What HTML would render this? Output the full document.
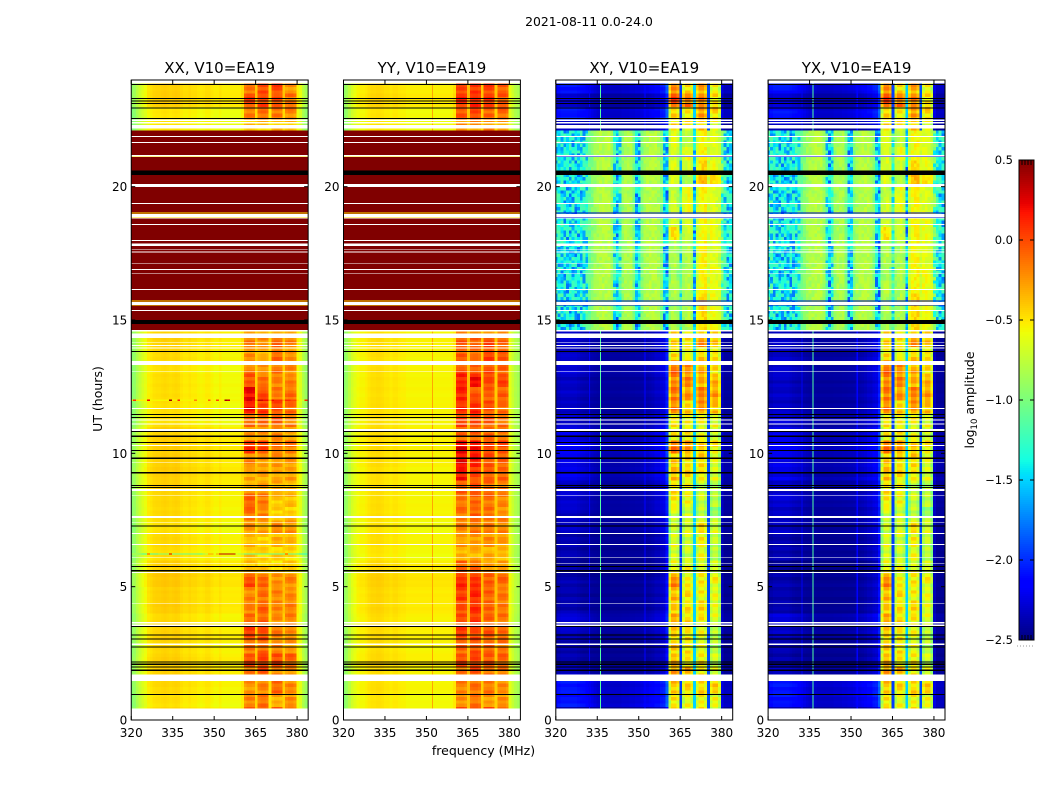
<!DOCTYPE html>
<html lang="en">
<head>
<meta charset="utf-8">
<title>2021-08-11 0.0-24.0</title>
<style>
html,body{margin:0;padding:0;background:#fff;width:1050px;height:800px;overflow:hidden}
svg{display:block}
text{font-family:"DejaVu Sans","Liberation Sans",sans-serif;fill:#000}
</style>
</head>
<body>
<svg id="figure" xmlns="http://www.w3.org/2000/svg" width="1050" height="800" viewBox="0 0 1050 800">
  <rect x="0" y="0" width="1050" height="800" fill="#fff"/>
  <text x="589" y="26" font-size="12.4" text-anchor="middle">2021-08-11 0.0-24.0</text>
  <text x="483.5" y="755" font-size="12.5" text-anchor="middle">frequency (MHz)</text>
  <text transform="translate(102,399) rotate(-90)" font-size="12.5" text-anchor="middle">UT (hours)</text>
  <text transform="translate(974,400) rotate(-90)" font-size="12.5" text-anchor="middle">log<tspan font-size="8.5" dy="3">10</tspan><tspan dy="-3"> amplitude</tspan></text>
</svg>
<script>
/* All values below are estimated by eye from the reference picture, in log10 amplitude.
   Row gains are per half hour. rowStripe and speckleTable are hand-typed texture
   approximations, not cell-by-cell readings. */
const channels=[320,321,322,323,324,325,326,327,328,329,330,331,332,333,334,335,336,337,338,339,340,341,342,343,344,345,346,347,348,349,350,351,352,353,354,355,356,357,358,359,360,361,362,363,364,365,366,367,368,369,370,371,372,373,374,375,376,377,378,379,380,381,382,383];
const segmentOfChannel=[0,0,0,0,0,0,0,0,0,0,0,0,0,0,0,0,0,0,0,0,0,0,0,0,0,0,0,0,0,0,0,0,0,0,0,0,0,0,0,0,0,1,1,1,1,5,2,2,2,2,5,3,3,3,3,5,4,4,4,4,0,0,0,0];
const xTicks=[320,335,350,365,380];
const yTicks=[0,5,10,15,20];
const colorbarTicks=[0.5,0,-0.5,-1,-1.5,-2,-2.5];
const colorbarLabels=['0.5','0.0','\u22120.5','\u22121.0','\u22121.5','\u22122.0','\u22122.5'];
const panelTitles=['XX, V10=EA19','YY, V10=EA19','XY, V10=EA19','YX, V10=EA19'];

const xxLowProfile=[-0.95,-0.9,-0.8,-0.72,-0.65,-0.6,-0.52,-0.5,-0.47,-0.46,-0.46,-0.45,-0.44,-0.45,-0.46,-0.45,-0.44,-0.45,-0.48,-0.5,-0.5,-0.48,-0.5,-0.5,-0.52,-0.53,-0.52,-0.5,-0.5,-0.53,-0.55,-0.55,-0.52,-0.55,-0.55,-0.55,-0.55,-0.55,-0.55,-0.55,-0.5,-0.05,0,0,-0.02,-0.42,-0.04,0,0,-0.03,-0.48,-0.04,0,0,-0.03,-0.42,-0.04,0,0,-0.05,-0.55,-0.62,-0.78,-0.88];
const yyLowProfile=[-0.95,-0.88,-0.78,-0.68,-0.62,-0.57,-0.55,-0.55,-0.53,-0.5,-0.48,-0.48,-0.47,-0.47,-0.48,-0.5,-0.5,-0.52,-0.5,-0.5,-0.52,-0.53,-0.53,-0.55,-0.55,-0.55,-0.55,-0.55,-0.55,-0.55,-0.55,-0.55,-0.55,-0.55,-0.55,-0.55,-0.55,-0.55,-0.55,-0.55,-0.5,0,0.02,0.02,-0.02,-0.38,0,0.02,0.02,-0.02,-0.42,0,0.02,0.02,-0.02,-0.42,-0.02,0,0,-0.05,-0.62,-0.72,-0.8,-0.85];
const saturatedProfile=[0.62,0.62,0.62,0.62,0.62,0.62,0.62,0.62,0.62,0.62,0.62,0.62,0.62,0.62,0.62,0.62,0.62,0.62,0.62,0.62,0.62,0.62,0.62,0.62,0.62,0.62,0.62,0.62,0.62,0.62,0.62,0.62,0.62,0.62,0.62,0.62,0.62,0.62,0.62,0.62,0.62,0.62,0.62,0.62,0.62,0.62,0.62,0.62,0.62,0.62,0.62,0.62,0.62,0.62,0.62,0.62,0.62,0.62,0.62,0.62,0.62,0.62,0.62,0.62];
const xyLowProfile=[-2.47,-2.45,-2.42,-2.42,-2.42,-2.42,-2.42,-2.42,-2.44,-2.46,-2.47,-2.47,-2.47,-2.47,-2.47,-2.47,-2.47,-2.47,-2.47,-2.47,-2.47,-2.47,-2.47,-2.47,-2.47,-2.47,-2.47,-2.47,-2.47,-2.47,-2.47,-2.47,-2.45,-2.46,-2.45,-2.43,-2.4,-2.4,-2.36,-2.34,-2.15,-0.3,0,0,-0.12,-1.95,-0.2,0,0,-0.15,-1.5,-0.2,0,0,-0.15,-1.9,-0.15,0,0,-0.25,-2.38,-2.47,-2.47,-2.47];
const yxLowProfile=[-2.47,-2.45,-2.42,-2.42,-2.42,-2.42,-2.42,-2.42,-2.44,-2.46,-2.47,-2.47,-2.47,-2.47,-2.47,-2.47,-2.47,-2.47,-2.47,-2.47,-2.47,-2.47,-2.47,-2.47,-2.47,-2.47,-2.47,-2.47,-2.47,-2.47,-2.47,-2.47,-2.45,-2.46,-2.45,-2.43,-2.4,-2.4,-2.36,-2.34,-2.15,-0.3,0,0,-0.12,-1.95,-0.2,0,0,-0.15,-1.5,-0.2,0,0,-0.15,-1.9,-0.15,0,0,-0.25,-2.38,-2.47,-2.47,-2.47];
const crossChannelWeight=[0.9,1,1,1,1,1,1,1,1,1,1,0.9,0.8,0.7,0.6,0.5,0.5,0.5,0.45,0.45,0.45,0.45,0.45,0.45,0.5,0.5,0.5,0.55,0.55,0.6,0.6,0.65,0.7,0.7,0.75,0.75,0.8,0.8,0.85,0.85,0.9,0,0,0,0,0,0,0,0,0,0,0,0,0,0,0,0,0,0,0,0.4,0.4,0.4,0.4];
const xyHighProfile=[-1.25,-1.28,-1.32,-1.35,-1.35,-1.35,-1.35,-1.35,-1.35,-1.32,-1.28,-1.2,-1.05,-0.95,-0.85,-0.8,-0.78,-0.76,-0.76,-0.76,-0.88,-1.2,-1.42,-1.2,-0.88,-0.8,-0.8,-0.8,-1,-1.42,-1.38,-0.95,-0.82,-0.78,-0.76,-0.76,-0.76,-0.82,-0.95,-1.38,-1.48,-0.85,-0.75,-0.75,-0.85,-1.18,-0.85,-0.8,-0.75,-0.85,-1.45,-0.8,-0.66,-0.62,-0.62,-0.66,-0.66,-0.66,-0.7,-0.76,-1,-1.25,-1.32,-1.32];

const xxLowGain=[0,-0.03,0,0.02,0.02,0,0.02,0,0.03,0.03,0.05,0.02,-0.02,0,-0.03,0,0,0.02,0.03,0.03,0.03,0.02,-0.03,-0.03,-0.02,-0.02,-0.03,0,0.02,0,0,0,0,0,0,0,0,0,0,0,0,0,0,0,-0.05,-0.05,0.03,0.02];
const yyLowGain=[0,-0.02,0,0,0.02,0,0.02,0.01,0.03,0.03,0.05,0.02,-0.02,0,-0.02,0,0,0,0,0.01,0.01,0.01,0,0,0,0,0,0,0.01,0,0,0,0,0,0,0,0,0,0,0,0,0,0,0,-0.03,-0.02,0.03,0.02];
const crossLowGain=[0,0.35,0.35,0.1,0.05,0.05,0.1,0.15,0.05,0.05,0.05,0,0.05,0.05,0.1,0.1,0.15,0.1,0.2,0.2,0.25,0.2,0.15,0.1,0.1,0.1,0.15,0.1,0.1,0.1,0,0,0,0,0,0,0,0,0,0,0,0,0,0,0.1,0.35,0.15,0.35];

const xxSeg1=[0,-0.1,-0.15,-0.05,0.08,-0.05,0.1,-0.02,-0.08,-0.1,0.08,-0.3,-0.3,-0.28,-0.15,-0.02,0.03,-0.25,-0.2,-0.1,0.15,-0.15,-0.02,0.25,0.3,0.08,-0.1,-0.15,-0.05,-0.2,0,0,0,0,0,0,0,0,0,0,0,0,0,0,-0.3,-0.08,0.1,-0.05];
const xxSeg2=[0,-0.05,-0.1,0.05,0.12,-0.02,0.08,0.02,0,-0.02,0,-0.35,-0.35,-0.3,-0.2,-0.1,-0.05,-0.2,-0.2,-0.15,0.1,-0.15,-0.02,0.15,0.08,-0.05,-0.15,-0.25,-0.1,-0.2,0,0,0,0,0,0,0,0,0,0,0,0,0,0,-0.3,-0.02,0.1,0.1];
const xxSeg3=[0,-0.2,0,-0.1,0.1,-0.1,-0.08,-0.12,-0.1,-0.1,-0.12,-0.35,-0.35,-0.25,-0.1,-0.35,-0.3,-0.2,-0.2,-0.15,-0.05,-0.1,0.02,0.08,-0.05,-0.08,-0.05,-0.02,0,-0.2,0,0,0,0,0,0,0,0,0,0,0,0,0,0,-0.3,-0.05,0.05,0.1];
const xxSeg4=[0,-0.15,-0.1,-0.15,0,-0.15,-0.12,-0.1,-0.08,-0.12,-0.1,-0.35,-0.35,-0.25,-0.15,-0.3,-0.28,-0.25,-0.2,-0.15,-0.05,-0.2,-0.08,0,-0.02,-0.1,-0.1,-0.15,-0.1,-0.25,0,0,0,0,0,0,0,0,0,0,0,0,0,0,-0.3,-0.1,-0.02,-0.15];

const yySeg1=[0,-0.2,-0.15,-0.1,0.02,-0.05,0.05,0.02,0.02,0.08,0.12,-0.05,-0.3,-0.25,-0.15,-0.1,-0.1,-0.05,0.2,0.25,0.25,-0.05,0.05,0.1,0.15,0.18,-0.02,-0.05,0,-0.15,0,0,0,0,0,0,0,0,0,0,0,0,0,0,-0.2,-0.02,0.12,0.05];
const yySeg2=[0,-0.12,-0.1,0,0.05,0,0.03,0.1,0.1,0.15,0.1,-0.1,-0.3,-0.2,-0.12,-0.05,-0.05,-0.02,0.05,0.2,0.2,-0.05,0.02,0.15,-0.02,0.2,-0.05,-0.1,-0.02,-0.15,0,0,0,0,0,0,0,0,0,0,0,0,0,0,-0.2,0.05,0.12,0.1];
const yySeg3=[0,-0.2,-0.12,-0.1,0,-0.05,-0.02,-0.05,-0.05,-0.05,-0.02,-0.2,-0.3,-0.2,-0.12,-0.1,-0.1,-0.05,-0.02,0,0.05,-0.05,-0.02,0,-0.02,0.05,0.02,0.05,0.05,-0.2,0,0,0,0,0,0,0,0,0,0,0,0,0,0,-0.2,-0.05,0.08,0.05];
const yySeg4=[0,-0.2,-0.15,-0.12,-0.05,-0.08,-0.05,-0.1,-0.1,-0.1,-0.05,-0.25,-0.3,-0.2,-0.15,-0.15,-0.15,-0.1,-0.05,-0.02,0.05,-0.1,-0.08,-0.05,-0.02,0.05,-0.02,0,-0.05,-0.2,0,0,0,0,0,0,0,0,0,0,0,0,0,0,-0.25,-0.05,0.02,-0.02];

const crossSeg1=[-0.6,-0.6,-0.5,-0.35,-0.45,-0.5,-0.55,-0.4,-0.5,-0.45,-0.3,-0.7,-0.75,-0.75,-0.8,-0.75,-0.6,-0.6,-0.45,-0.5,-0.25,-0.6,-0.6,-0.3,-0.25,-0.25,-0.2,-0.6,-0.5,-0.5,-0.05,-0.05,0,-0.1,0,-0.05,0.3,0.1,0.1,0.05,0.15,0.15,0.1,0.15,-0.55,-0.55,-0.1,-0.3];
const crossSeg2=[-0.7,-0.7,-0.55,-0.45,-0.6,-0.6,-0.6,-0.55,-0.6,-0.55,-0.65,-0.7,-0.8,-0.75,-0.75,-0.8,-0.65,-0.7,-0.55,-0.55,-0.35,-0.6,-0.65,-0.5,-0.35,-0.3,-0.3,-0.7,-0.55,-0.6,0,0,0,0,0,0,0.1,0.1,0.2,0.2,0,0.1,0.2,0.05,-0.6,-0.6,-0.25,-0.55];
const crossSeg3=[-0.6,-0.6,-0.55,-0.6,-0.6,-0.7,-0.7,-0.6,-0.55,-0.65,-0.6,-0.7,-0.7,-0.65,-0.55,-0.85,-0.8,-0.8,-0.6,-0.55,-0.5,-0.7,-0.65,-0.35,-0.25,-0.4,-0.4,-0.55,-0.3,-0.5,0.2,0.2,0.1,0.1,0.1,0.1,0.1,0.1,0.1,0.1,0.3,0.2,0.1,0.1,-0.5,-0.35,-0.3,-0.4];
const crossSeg4=[-0.7,-0.7,-0.5,-0.75,-0.8,-0.85,-0.85,-0.75,-0.7,-0.7,-0.65,-0.8,-0.85,-0.8,-0.75,-0.95,-0.85,-0.85,-0.75,-0.7,-0.6,-0.75,-0.7,-0.45,-0.35,-0.45,-0.55,-0.6,-0.5,-0.55,0.1,0.1,0.1,0.1,0.05,0.05,0.1,0.1,0.05,0.05,0.2,0.1,0.05,0.05,-0.7,-0.55,-0.55,-0.65];

const crossLineFreqs=[332,336,352];
const crossLineValues=[-2.2,-1.15,-2.15];
const yyLineFreqs=[352];
const yyLineValues=[-0.3];

const rowStripe=[0.3,-0.5,0.8,-0.1,-0.8,0.4,0.9,-0.3,0.1,-0.9,0.6,0.2,-0.6,0.7,-0.2,0.5,-0.7,0,0.9,-0.4,-0.1,0.6,-0.8,0.3,0.7,-0.5,0.1,-0.9,0.4,0.8,-0.2,-0.6,0.5,0,0.9,-0.7,0.2,-0.3,0.6,-0.8,0.4];
const speckleTable=[
'7260481953726049185376204917352',
'3915627048193756204813975260481',
'6048271935046827193750462819370',
'1739502864173950286417395028641',
'8426059173842605917384260591738',
'2597381046259738104625973810462',
'5083916274508391627450839162745',
'9361740528936174052893617405289',
'0748253916074825391607482539160',
'4612987035461298703546129870354',
'7950346182795034618279503461827',
'2186075394218607539421860753942',
'6423918570642391857064239185706',
'8071564239807156423980715642398',
'3594720168359472016835947201683',
'1860239475186023947518602394751',
'5237681904523768190452376819045',
'9702413586970241358697024135869',
'4158906273415890627341589062734',
'0683572941068357294106835729410',
'7341095826734109582673410958267',
'2976840315297684031529768403152',
'6509127483650912748365091274836'];

const whiteFlagHours=[[24,23.87],[22.52,22.46],[22.43,22.37],[22.31,22.18],[21.9,21.87],[21.67,21.63],[21.18,21.14],[20.1,19.99],[19.39,19.35],[18.97,18.87],[18.84,18.81],[18.6,18.57],[18,17.97],[17.86,17.78],[17.65,17.62],[17.57,17.53],[17.14,17.11],[16.92,16.88],[16.75,16.72],[16.17,16.13],[15.67,15.56],[15.38,15.34],[14.62,14.56],[14.5,14.32],[14.16,14.13],[14.06,14.03],[13.97,13.94],[13.46,13.31],[13.09,13.06],[11.7,11.67],[11.27,11.24],[11.12,11.09],[10.91,10.84],[10.32,10.28],[9.68,9.65],[8.67,8.59],[8.44,8.41],[7.65,7.57],[7.43,7.4],[7.01,6.98],[6.6,6.57],[6.12,6.09],[5.89,5.86],[5.55,5.52],[4.39,4.36],[3.67,3.62],[3.58,3.52],[2.86,2.82],[1.7,1.46],[0.43,0]];
const blackFlagHours=[[23.85,23.81],[23.33,23.29],[23.24,23.2],[23.14,23.1],[22.97,22.93],[22.57,22.53],[20.6,20.44],[15,14.85],[13.84,13.8],[11.47,11.43],[11.37,11.33],[10.84,10.8],[10.66,10.62],[10.43,10.39],[10.13,10.09],[9.85,9.79],[9.3,9.24],[8.82,8.78],[8.74,8.7],[7.29,7.25],[5.78,5.74],[5.63,5.57],[3.53,3.49],[3.2,3.16],[3.05,3.01],[2.75,2.71],[2.19,2.15],[2.11,2.07],[2.01,1.97],[1.9,1.84],[0.98,0.94]];
const lowStateHours=[21.12,18.99,18.85,15.69,15.54];
const lowStateValues=[-0.5,-0.5,-2.3,-2.3];
const highRegimeHours=[14.6,22.1];
const rfiHours=[6.21,11.98];
const rfiRow621=[-0.8,-0.8,-0.9,-1,-1.2,-1.2,0,-1.2,-1.2,-1.2,-1,-1,-1,-1,0.3,-1.1,-1.1,-1.1,-1.1,-1.1,-1.1,-1.1,-1.1,-1.1,-1.1,-1.1,-0.9,-0.8,-0.3,-0.3,-0.6,-0.3,0.35,0.35,0.35,0.35,0.35,0.35,-0.7,-0.8,-0.9,-1.1,-1.1,-1.1,-1.1,-1.1,-1.1,-1.1,-1.1,-1.1,-1.1,-1.1,-1.1,-1.1,-1.1,-1.1,0,-1.1,-1.1,-1.1,-1.2,-1.3,-1.3,-1.3];
const rfiRow1198=[-0.5,0.1,-0.5,-0.55,-0.55,-0.55,0.2,-0.55,-0.55,-0.55,-0.55,-0.55,-0.55,-0.55,0.4,-0.55,-0.55,0.1,-0.55,-0.55,-0.55,-0.55,-0.55,-0.2,-0.55,-0.55,-0.55,-0.55,-0.1,-0.55,-0.55,0,-0.55,-0.55,0.4,0.3,-0.55,-0.55,-0.55,-0.55,-0.55,0.2,0.3,0.3,0.2,-0.3,0.3,0.3,0.2,0.2,-0.3,0.2,0.1,0.1,0.1,-0.3,0.1,0.1,0,0,-0.5,-0.6,-0.7,0.1];

const NS='http://www.w3.org/2000/svg';
const svg=document.getElementById('figure');
const AX_TOP=80,AX_BOTTOM=720,AX_W=176.9;
const panelLefts=[131.25,343.5,555.8,768.1];
const ROW_HOURS=0.125,ROWS=192;

function yScale(h){return AX_BOTTOM-(h/24)*(AX_BOTTOM-AX_TOP);}
function xScale(f,left){return left+((f-320)/64)*AX_W;}
function cbScale(v){return 640-((v+2.5)/3)*480;}
function lerp(stops,t){
  for(let i=1;i<stops.length;i++){
    if(t<=stops[i][0]){
      const a=stops[i-1],b=stops[i];
      return a[1]+(b[1]-a[1])*(t-a[0])/(b[0]-a[0]);
    }
  }
  return stops[stops.length-1][1];
}
const jetR=[[0,0],[0.35,0],[0.66,1],[0.89,1],[1,0.5]];
const jetG=[[0,0],[0.125,0],[0.375,1],[0.64,1],[0.91,0],[1,0]];
const jetB=[[0,0.5],[0.11,1],[0.34,1],[0.65,0],[1,0]];
function colorOf(v){
  const t=Math.max(0,Math.min(1,(v+2.5)/3));
  return 'rgb('+Math.round(255*lerp(jetR,t))+','+Math.round(255*lerp(jetG,t))+','+Math.round(255*lerp(jetB,t))+')';
}
function speckle(row,ch,shift){
  const line=speckleTable[(row+shift)%speckleTable.length];
  const d=(Number(line[(ch*3+row*5+shift*11)%line.length])-5)/5;
  return d<0?d*1.3:d*0.6;
}
const panelConfigs=[
  {low:xxLowProfile,high:saturatedProfile,lowGain:xxLowGain,segs:[xxSeg1,xxSeg2,xxSeg3,xxSeg4],cross:false,lowAmp:0.012,bandAmp:0.1,bandShift:-0.09},
  {low:yyLowProfile,high:saturatedProfile,lowGain:yyLowGain,segs:[yySeg1,yySeg2,yySeg3,yySeg4],cross:false,lowAmp:0.01,bandAmp:0.1,bandShift:-0.05},
  {low:xyLowProfile,high:xyHighProfile,lowGain:crossLowGain,segs:[crossSeg1,crossSeg2,crossSeg3,crossSeg4],cross:true,lowAmp:0.05,bandAmp:0.14,bandShift:0.1},
  {low:yxLowProfile,high:xyHighProfile,lowGain:crossLowGain,segs:[crossSeg1,crossSeg2,crossSeg3,crossSeg4],cross:true,lowAmp:0.05,bandAmp:0.14,bandShift:0.1}
];
function cellValue(cfg,row,ch,p){
  const h=(row+0.5)*ROW_HOURS;
  const isHigh=h>highRegimeHours[0]&&h<highRegimeHours[1];
  const seg=segmentOfChannel[ch];
  if(isHigh){
    if(!cfg.cross)return cfg.high[ch];
    const blk=Math.max(30,Math.min(43,Math.floor(h*2)));
    const noisy=(ch<12||ch>59||cfg.high[ch]<-1.15)?0.34:0.08;
    const g=(seg>=1&&seg<=4)?cfg.segs[seg-1][blk]:0;
    return cfg.high[ch]+g+noisy*speckle(row,ch,p);
  }
  const blk=Math.floor(h*2);
  if(seg>=1&&seg<=4){
    return cfg.low[ch]+cfg.segs[seg-1][blk]+cfg.bandShift+cfg.bandAmp*rowStripe[(row+seg*7)%rowStripe.length];
  }
  if(cfg.cross){
    const w=crossChannelWeight[ch];
    return cfg.low[ch]+cfg.lowGain[blk]*w+cfg.lowAmp*w*rowStripe[(row+p)%rowStripe.length];
  }
  return cfg.low[ch]+cfg.lowGain[blk]+cfg.lowAmp*rowStripe[(row+p)%rowStripe.length];
}
function addRect(parent,x,y,w,h,fill){
  const el=document.createElementNS(NS,'rect');
  el.setAttribute('x',x.toFixed(2));
  el.setAttribute('y',y.toFixed(2));
  el.setAttribute('width',w.toFixed(2));
  el.setAttribute('height',h.toFixed(2));
  el.setAttribute('fill',fill);
  parent.appendChild(el);
  return el;
}
function addLine(parent,x1,y1,x2,y2,stroke){
  const el=document.createElementNS(NS,'line');
  el.setAttribute('x1',x1);
  el.setAttribute('y1',y1);
  el.setAttribute('x2',x2);
  el.setAttribute('y2',y2);
  el.setAttribute('stroke',stroke||'#000');
  el.setAttribute('stroke-width','1');
  parent.appendChild(el);
  return el;
}
function addText(parent,x,y,str,size,anchor){
  const el=document.createElementNS(NS,'text');
  el.setAttribute('x',x);
  el.setAttribute('y',y);
  el.setAttribute('font-size',size);
  el.setAttribute('text-anchor',anchor);
  el.textContent=str;
  parent.appendChild(el);
  return el;
}
const defs=document.createElementNS(NS,'defs');
svg.appendChild(defs);

panelLefts.forEach(function(left,p){
  const cfg=panelConfigs[p];
  const group=document.createElementNS(NS,'g');
  
  
  svg.appendChild(group);

  const clip=document.createElementNS(NS,'clipPath');
  clip.setAttribute('id','clip-'+p);
  const clipRect=document.createElementNS(NS,'rect');
  clipRect.setAttribute('x',left);
  clipRect.setAttribute('y',AX_TOP);
  clipRect.setAttribute('width',AX_W);
  clipRect.setAttribute('height',AX_BOTTOM-AX_TOP);
  clip.appendChild(clipRect);
  defs.appendChild(clip);

  const cells=document.createElementNS(NS,'g');
  cells.setAttribute('clip-path','url(#clip-'+p+')');
  cells.setAttribute('shape-rendering','crispEdges');
  
  
  group.appendChild(cells);

  const cellW=AX_W/channels.length;
  for(let row=3;row<ROWS;row++){
    const yTop=yScale((row+1)*ROW_HOURS);
    const yBot=yScale(row*ROW_HOURS);
    channels.forEach(function(f,ch){
      const x0=xScale(f-0.3,left);
      const w=(ch===channels.length-1)?cellW*1.4:cellW*1.02;
      const el=addRect(cells,x0,yTop,w,yBot-yTop+0.3,colorOf(cellValue(cfg,row,ch,p)));
      
      
    });
  }
  const lineFreqs=cfg.cross?crossLineFreqs:(p===1?yyLineFreqs:[]);
  const lineValues=cfg.cross?crossLineValues:(p===1?yyLineValues:[]);
  lineFreqs.forEach(function(f,i){
    const lower=addRect(cells,xScale(f,left),yScale(highRegimeHours[0]),1.2,yScale(0)-yScale(highRegimeHours[0]),colorOf(lineValues[i]));
    
    
    const upper=addRect(cells,xScale(f,left),yScale(24),1.2,yScale(highRegimeHours[1])-yScale(24),colorOf(lineValues[i]));
    
    
  });
  lowStateHours.forEach(function(h){
    const el=addRect(cells,left,yScale(h+0.04),AX_W,yScale(h)-yScale(h+0.04),colorOf(lowStateValues[p]));
    
    
  });
  if(p===0){
    rfiHours.forEach(function(h,i){
      const vals=i===0?rfiRow621:rfiRow1198;
      channels.forEach(function(f,ch){
        const el=addRect(cells,xScale(f-0.3,left),yScale(h+0.03),cellW*1.02,yScale(h-0.01)-yScale(h+0.03),colorOf(vals[ch]));
        
        
      });
    });
  }
  whiteFlagHours.forEach(function(s){
    const el=addRect(cells,left,yScale(s[0]),AX_W,yScale(s[1])-yScale(s[0]),'#fff');
    
    
  });
  blackFlagHours.forEach(function(s){
    const el=addRect(cells,left,yScale(s[0]),AX_W,yScale(s[1])-yScale(s[0]),'#000');
    
    
  });

  const frame=addRect(group,left,AX_TOP,AX_W,AX_BOTTOM-AX_TOP,'none');
  frame.setAttribute('stroke','#000');
  frame.setAttribute('stroke-width','1');
  
  

  xTicks.forEach(function(f){
    const x=xScale(f,left);
    const a=addLine(group,x,AX_BOTTOM,x,AX_BOTTOM-4);
    
    
    const b=addLine(group,x,AX_TOP,x,AX_TOP+4);
    
    
    const t=addText(group,x,737,String(f),12,'middle');
    
    
  });
  yTicks.forEach(function(h){
    const y=yScale(h);
    const a=addLine(group,left,y,left+4,y);
    
    
    const b=addLine(group,left+AX_W,y,left+AX_W-4,y);
    
    
    const t=addText(group,left-4,y+4.5,String(h),12,'end');
    
    
  });
  const title=addText(group,left+AX_W/2,73,panelTitles[p],15,'middle');
  
  
});

const cb=document.createElementNS(NS,'g');


svg.appendChild(cb);
const cbBand=document.createElementNS(NS,'g');
cbBand.setAttribute('shape-rendering','crispEdges');
cb.appendChild(cbBand);
for(let i=0;i<240;i++){
  const v=-2.5+(i+0.5)*3/240;
  const el=addRect(cbBand,1019,cbScale(-2.5+(i+1)*3/240),15,2.2,colorOf(v));
  
  
}
const cbFrame=addRect(cb,1019,160,15,480,'none');
cbFrame.setAttribute('stroke','#000');
cbFrame.setAttribute('stroke-width','1');


colorbarTicks.forEach(function(v,i){
  const y=cbScale(v);
  const a=addLine(cb,1019,y,1023,y);
  
  
  const b=addLine(cb,1034,y,1030,y);
  
  
  const t=addText(cb,1013,y+4,colorbarLabels[i],11.5,'end');
  
  
});
[1022,1025,1028,1031].forEach(function(x){
  const a=addLine(cb,x,160,x,165);
  
  
  const b=addLine(cb,x,640,x,635);
  
  
});
const dots=addLine(cb,1017,646,1035,646,'#999');
dots.setAttribute('stroke-dasharray','1 2');


</script>
</body>
</html>
